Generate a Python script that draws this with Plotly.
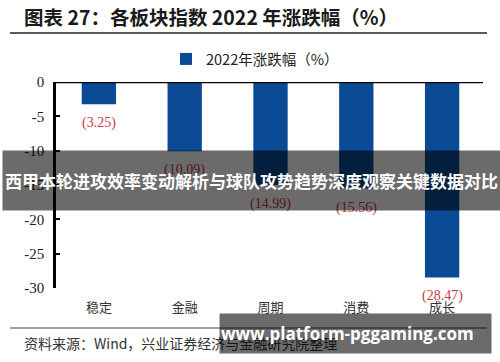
import plotly.graph_objects as go

categories = ["稳定", "金融", "周期", "消费", "成长"]
values = [-3.25, -10.09, -14.99, -15.56, -28.47]
series_name = "2022年涨跌幅（%）"
y_ticks = [0, -5, -10, -15, -20, -25, -30]
title_text = "图表 27：各板块指数 2022 年涨跌幅（%）"
source_text = "资料来源：Wind，兴业证券经济与金融研究院整理"
banner_text = "西甲本轮进攻效率变动解析与球队攻势趋势深度观察关键数据对比"
url_text = "www.platform-pggaming.com"

W, H = 500, 362
L, R, T, B = 56, 15, 82, 74
pw, ph = W - L - R, H - T - B

def px(x):
    return (x - L) / pw

def py(y):
    return (H - B - y) / ph

BLUE = "#0b4a95"
RED = "#c8383e"
SERIF = "Liberation Serif, Times New Roman, serif"
CJK = "Noto Sans CJK SC, sans-serif"

fig = go.Figure()
fig.add_trace(go.Bar(x=categories, y=values, name=series_name,
                     marker=dict(color=BLUE, line=dict(width=0)),
                     showlegend=True))

annotations = []
for c, v in zip(categories, values):
    annotations.append(dict(x=c, y=v, xref="x", yref="y", text=f"({abs(v):.2f})",
                            showarrow=False, yanchor="top", yshift=-9,
                            font=dict(family=SERIF, size=14, color=RED)))

annotations.append(dict(x=px(22), y=py(17), xref="paper", yref="paper", text=f"<b>{title_text}</b>",
                        showarrow=False, xanchor="left", yanchor="middle",
                        font=dict(family=CJK, size=19.5, color="#1a1a1a")))
annotations.append(dict(x=px(22), y=py(343), xref="paper", yref="paper", text=source_text,
                        showarrow=False, xanchor="left", yanchor="middle",
                        font=dict(family=CJK, size=14, color="#333333")))
# overlay banners
annotations.append(dict(x=px(251.5), y=py(180.5), xref="paper", yref="paper",
                        text=f"<b>{banner_text}</b>", showarrow=False,
                        xanchor="center", yanchor="middle", width=497, height=59,
                        borderpad=0, bgcolor="rgba(0,0,0,0.58)",
                        font=dict(family=CJK, size=17, color="white")))
annotations.append(dict(x=px(355.5), y=py(333.5), xref="paper", yref="paper",
                        text=f"<b>{url_text}</b>", showarrow=False, align="left",
                        xanchor="center", yanchor="middle", width=269, height=37,
                        borderpad=1, bgcolor="rgba(0,0,0,0.58)",
                        font=dict(family="Open Sans, sans-serif", size=17, color="white")))

shapes = [
    dict(type="line", xref="paper", yref="y", x0=0, x1=px(483), y0=0, y1=0,
         line=dict(color="black", width=2.5), layer="above"),
    dict(type="line", xref="paper", yref="paper", x0=px(10), x1=px(487), y0=py(33), y1=py(33),
         line=dict(color="#222222", width=1.5)),
    dict(type="line", xref="paper", yref="paper", x0=px(10), x1=px(487), y0=py(328), y1=py(328),
         line=dict(color="#444444", width=1.2)),
]

fig.update_layout(
    width=W, height=H,
    margin=dict(l=L, r=R, t=T, b=B, autoexpand=False),
    paper_bgcolor="white", plot_bgcolor="white",
    bargap=0.6,
    showlegend=True,
    legend=dict(orientation="h", x=px(255), y=py(59), xanchor="center", yanchor="middle",
                font=dict(family=CJK, size=14.5, color="#222222"),
                itemwidth=30, bgcolor="rgba(0,0,0,0)"),
    xaxis=dict(showline=False, showgrid=False, zeroline=False, ticks="",
               tickfont=dict(family=CJK, size=13, color="#333333"),
               ticklabelstandoff=10),
    yaxis=dict(range=[-30, 0], tickvals=y_ticks, ticktext=[str(t) for t in y_ticks],
               showline=True, linecolor="black", linewidth=2.5,
               ticks="inside", ticklen=4, tickwidth=2, tickcolor="black",
               showgrid=False, zeroline=False,
               tickfont=dict(family=SERIF, size=15, color="#222222"),
               ticklabelstandoff=6),
    annotations=annotations,
    shapes=shapes,
)

fig.write_html("out.html", config={"displayModeBar": False},
               post_script="document.body.style.margin='0';document.body.style.overflow='hidden';")
